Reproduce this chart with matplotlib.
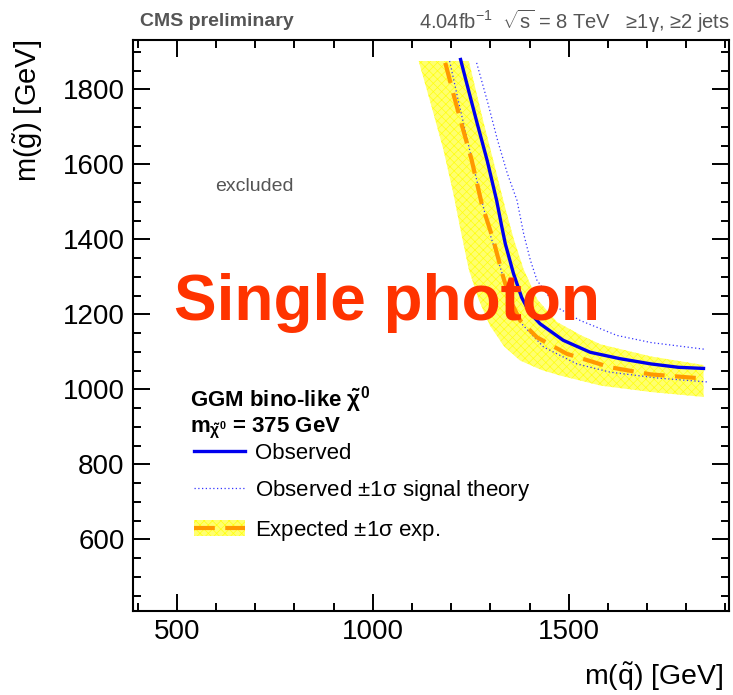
import numpy as np
import matplotlib.pyplot as plt
from matplotlib.ticker import MultipleLocator

plt.rcParams['font.family'] = ['Liberation Sans', 'DejaVu Sans']
plt.rcParams['mathtext.fontset'] = 'custom'
plt.rcParams['mathtext.rm'] = 'Liberation Sans'
plt.rcParams['mathtext.it'] = 'Liberation Sans:italic'
plt.rcParams['mathtext.bf'] = 'Liberation Sans:bold'
plt.rcParams['hatch.linewidth'] = 0.5

# observed limit (squark mass, gluino mass) in GeV
obs_squark = [1224, 1245, 1266, 1292, 1316, 1328, 1338, 1359, 1380, 1400, 1427,
              1486, 1555, 1631, 1710, 1780, 1844]
obs_gluino = [1880, 1795, 1711, 1610, 1504, 1440, 1389, 1309, 1245, 1205, 1175,
              1131, 1099, 1082, 1068, 1059, 1056]

# expected limit
exp_squark = [1185, 1206, 1228, 1252, 1278, 1308, 1333, 1352, 1376, 1419, 1495,
              1606, 1710, 1844]
exp_gluino = [1871, 1787, 1702, 1613, 1495, 1397, 1299, 1235, 1184, 1139, 1095,
              1059, 1040, 1029]

# expected +-1 sigma band edges
band_low_squark = [1117, 1149, 1180, 1206, 1225, 1245, 1270, 1299, 1335, 1376,
                   1430, 1478, 1582, 1710, 1844]
band_low_gluino = [1876, 1758, 1640, 1520, 1420, 1320, 1240, 1170, 1115, 1077,
                   1052, 1037, 1010, 993, 980]
band_high_squark = [1245, 1283, 1310, 1337, 1360, 1385, 1420, 1470, 1530, 1582,
                    1710, 1844]
band_high_gluino = [1876, 1711, 1600, 1488, 1400, 1320, 1240, 1180, 1145, 1120,
                    1088, 1065]

# observed +-1 sigma signal theory
theo_up_squark = [1265, 1292, 1318, 1343, 1368, 1385, 1402, 1419, 1470, 1529,
                  1623, 1710, 1848]
theo_up_gluino = [1871, 1770, 1666, 1577, 1504, 1415, 1345, 1291, 1219, 1184,
                  1144, 1125, 1107]
theo_dn_squark = [1196, 1218, 1241, 1266, 1299, 1333, 1355, 1380, 1436, 1521,
                  1606, 1730, 1853]
theo_dn_gluino = [1876, 1771, 1666, 1555, 1415, 1299, 1230, 1175, 1113, 1068,
                  1046, 1030, 1020]

fig = plt.figure(figsize=(7.33, 6.95), dpi=100)
ax = fig.add_axes([133 / 733, 84 / 695, 596 / 733, 571 / 695])

# banda amarilla
band_x = band_low_squark + band_high_squark[::-1]
band_y = band_low_gluino + band_high_gluino[::-1]
band = ax.fill(band_x, band_y, facecolor='#ffff70', edgecolor='#ffff10',
               hatch='xxxx', linewidth=0, zorder=1)[0]

exp_line, = ax.plot(exp_squark, exp_gluino, color='#ff9900', lw=3,
                    dashes=(5, 2.5), zorder=3)
theo_line, = ax.plot(theo_up_squark, theo_up_gluino, color='#3333ff', lw=0.9,
                     linestyle=(0, (1, 2)), zorder=2)
ax.plot(theo_dn_squark, theo_dn_gluino, color='#3333ff', lw=0.9,
        linestyle=(0, (1, 2)), zorder=2)
obs_line, = ax.plot(obs_squark, obs_gluino, color='#0000ee', lw=2.4, zorder=4)

ax.set_xlim(388, 1909)
ax.set_ylim(409, 1932)

ax.xaxis.set_major_locator(MultipleLocator(500))
ax.xaxis.set_minor_locator(MultipleLocator(100))
ax.yaxis.set_major_locator(MultipleLocator(200))
ax.yaxis.set_minor_locator(MultipleLocator(50))
ax.tick_params(which='both', direction='in', top=True, right=True,
               labelsize=20, width=1.4, pad=6)
ax.tick_params(which='major', length=12.5)
ax.tick_params(which='minor', length=6)
for s in ax.spines.values():
    s.set_linewidth(1.5)

ax.set_xlabel(r'm($\mathregular{\tilde{q}}$) [GeV]', fontsize=20.5)
ax.xaxis.set_label_coords(0.99, -0.1156)
ax.xaxis.label.set_ha('right')
ax.xaxis.label.set_va('center')
ax.set_ylabel(r'm($\mathregular{\tilde{g}}$) [GeV]', fontsize=21)
ax.yaxis.set_label_coords(-0.176, 1.0)
ax.yaxis.label.set_ha('right')
ax.yaxis.label.set_va('center')

ax.text(493, 1186, 'Single photon', color='#ff3300', fontsize=46,
        fontweight='bold', ha='left', va='baseline', zorder=5)
ax.text(597, 1541, 'excluded', color='#555555', fontsize=14,
        ha='left', va='center')

fig.text(140 / 733, 1 - 22 / 695, 'CMS preliminary', color='#555555',
         fontsize=14, fontweight='bold', ha='left', va='center')
fig.text(730 / 733, 1 - 21 / 695,
         r'4.04fb$^{\mathregular{-1}}$  $\sqrt{\mathregular{s}}$ = 8 TeV   ≥1γ, ≥2 jets',
         color='#555555', fontsize=14.5, ha='right', va='center')

# legend header
ax.text(0.0956, 0.3695, 'GGM bino-like $\\mathregular{\\tilde{\\chi}^0}$',
        transform=ax.transAxes, fontsize=16, fontweight='bold',
        ha='left', va='center')
ax.text(0.0956, 0.3205, 'm$_{\\mathregular{\\tilde{\\chi}^0}}$ = 375 GeV',
        transform=ax.transAxes, fontsize=16, fontweight='bold',
        ha='left', va='center')

ax.legend([obs_line, theo_line, (band, exp_line)],
          ['Observed', r'Observed ±1$\mathregular{\sigma}$ signal theory',
           r'Expected ±1$\mathregular{\sigma}$ exp.'],
          loc='upper left', bbox_to_anchor=(0.083, 0.314),
          frameon=False, fontsize=16, handlelength=2.3,
          handletextpad=0.45, labelspacing=0.65, borderpad=0)

fig.savefig('out.png', dpi=100)
